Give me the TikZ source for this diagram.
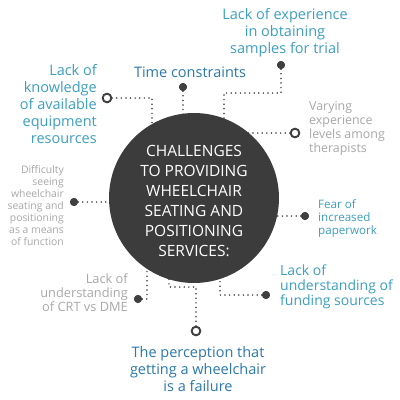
\documentclass[tikz,border=0pt]{standalone}
\usepackage{fontspec}
\setmainfont{Open Sans}
\definecolor{dotc}{HTML}{404040}
\definecolor{circ}{HTML}{3C3C3C}
\definecolor{teal}{HTML}{3D9FC2}
\definecolor{dblue}{HTML}{2A78AD}
\definecolor{gtext}{HTML}{A8A8A8}
\tikzset{
 dotline/.style={draw=dotc, line width=1.7pt, line cap=round, dash pattern=on 0pt off 4.6pt},
 fdot/.style={circle, fill=dotc, minimum size=8pt, inner sep=0pt},
 odot/.style={circle, draw=dotc, line width=1.8pt, fill=white, minimum size=8.5pt, inner sep=0pt},
 lbl/.style={inner sep=0pt},
}
\begin{document}
\begin{tikzpicture}[x=1pt,y=-1pt]
\useasboundingbox[fill=white] (0,0) rectangle (400,400);
% markers
\node[odot] (k) at (107,98) {};
\node[fdot] (t) at (183,87) {};
\node[fdot] (e) at (281,65) {};
\node[odot] (v) at (295,133) {};
\node[fdot] (d) at (74,202) {};
\node[fdot] (f) at (305,216) {};
\node[fdot] (c) at (138,299) {};
\node[odot] (p) at (196,331) {};
\node[fdot] (s) at (266,295) {};
% hub
\coordinate (hubc) at (194,198);
% connectors
\draw[dotline] (k) -- (152,98) -- (152,150);
\draw[dotline] (t) -- (183,150);
\draw[dotline] (e) -- (281,93) -- (224,93) -- (224,150);
\draw[dotline] (v) -- (240,133);
\draw[dotline] (d) -- (130,202);
\draw[dotline] (f) -- (260,216);
\draw[dotline] (c) -- (147,299) -- (147,250);
\draw[dotline] (p) -- (196,287) -- (169,287) -- (169,250);
\draw[dotline] (s) -- (220,295) -- (220,250);
\node[circle, fill=circ, minimum size=170pt, inner sep=0pt] (hub) at (hubc) {};
\node[lbl, text=white, align=center, font=\fontsize{15.5}{20}\selectfont] (title) at (194,201)
 {CHALLENGES\\TO PROVIDING\\WHEELCHAIR\\SEATING AND\\POSITIONING\\SERVICES:};
% redraw markers on top
\node[odot] at (k) {};
\node[fdot] at (t) {};
\node[fdot] at (e) {};
\node[odot] at (v) {};
\node[fdot] at (d) {};
\node[fdot] at (f) {};
\node[fdot] at (c) {};
\node[odot] at (p) {};
\node[fdot] at (s) {};
% labels
\node[lbl, text=teal, align=center, anchor=north, font=\fontsize{14.5}{17}\selectfont] (le) at (285,8.2)
 {Lack of experience\\in obtaining\\samples for trial};
\node[lbl, text=dblue, anchor=base, font=\fontsize{14.5}{17}\selectfont] (lt) at (190,77.9)
 {Time constraints};
\node[lbl, text=teal, align=right, anchor=north east, font=\fontsize{14.5}{17}\selectfont] (lk) at (97,64.2)
 {Lack of\\knowledge\\of available\\equipment\\resources};
\node[lbl, text=gtext, align=left, anchor=north west, font=\fontsize{12.4}{14}\selectfont] (lv) at (309,101.2)
 {Varying\\experience\\levels among\\therapists};
\node[lbl, text=gtext, align=right, anchor=north east, font=\fontsize{10.4}{12}\selectfont] (ld) at (64,165.1)
 {Difficulty\\seeing\\wheelchair\\seating and\\positioning\\as a means\\of function};
\node[lbl, text=teal, align=left, anchor=north west, font=\fontsize{11.6}{13}\selectfont] (lf) at (318,199.5)
 {Fear of\\increased\\paperwork};
\node[lbl, text=teal, align=left, anchor=north west, font=\fontsize{14}{15}\selectfont] (ls) at (280,264.4)
 {Lack of\\understanding of\\funding sources};
\node[lbl, text=gtext, align=right, anchor=north east, font=\fontsize{12.8}{14}\selectfont] (lc) at (128,274)
 {Lack of\\understanding\\of CRT vs DME};
\node[lbl, text=dblue, align=center, anchor=north, font=\fontsize{14.5}{17}\selectfont] (lp) at (198,346.2)
 {The perception that\\getting a wheelchair\\is a failure};
\end{tikzpicture}
\end{document}
